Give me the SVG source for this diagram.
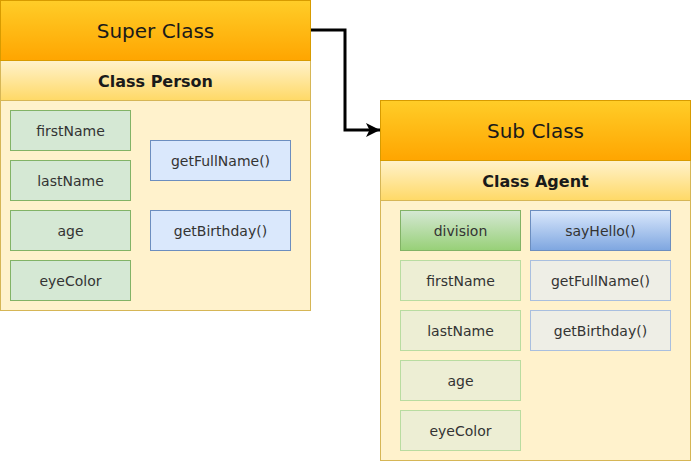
<svg xmlns="http://www.w3.org/2000/svg" width="691" height="461" viewBox="0 0 691 461">
<defs>
<linearGradient id="gHead" x1="0" y1="0" x2="0" y2="1"><stop offset="0" stop-color="#ffcd28"/><stop offset="1" stop-color="#ffa500"/></linearGradient>
<linearGradient id="gSub" x1="0" y1="0" x2="0" y2="1"><stop offset="0" stop-color="#fff2cc"/><stop offset="1" stop-color="#ffd966"/></linearGradient>
<linearGradient id="gGreen" x1="0" y1="0" x2="0" y2="1"><stop offset="0" stop-color="#d5e8d4"/><stop offset="1" stop-color="#97d077"/></linearGradient>
<linearGradient id="gBlue" x1="0" y1="0" x2="0" y2="1"><stop offset="0" stop-color="#dae8fc"/><stop offset="1" stop-color="#7ea6e0"/></linearGradient>
<marker id="arr" markerWidth="14" markerHeight="14" refX="14" refY="7" orient="auto" markerUnits="userSpaceOnUse">
<path d="M0,0 L14,7 L0,14 L3.5,7 Z" fill="#000"/>
</marker>
</defs>
<style>
text{font-family:"DejaVu Sans",Verdana,sans-serif;text-anchor:middle;dominant-baseline:central;fill:#1a1a1a}
.head{fill:url(#gHead);stroke:#d79b00}
.sub{fill:url(#gSub);stroke:#d6b656}
.body{fill:#fff2cc;stroke:#d6b656}
.t1{font-size:20px}
.t2{font-size:16px;font-weight:bold}
.t3{font-size:14px;fill:#333}
.attr{fill:#d5e8d4;stroke:#82b366}
.meth{fill:#dae8fc;stroke:#6c8ebf}
.attrN{fill:url(#gGreen);stroke:#82b366}
.methN{fill:url(#gBlue);stroke:#6c8ebf}
.attrF{fill:#edeed4;stroke:#b9dca0}
.methF{fill:#eeeee6;stroke:#a9bfdf}
</style>
<g id="connectors">
<path d="M310,30 H345 V130 H380" fill="none" stroke="#000" stroke-width="3" marker-end="url(#arr)"/>
</g>
<g id="superclass">
<rect class="body" x="0.5" y="100.5" width="310" height="210"/>
<rect class="sub" x="0.5" y="60.5" width="310" height="40"/>
<rect class="head" x="0.5" y="0.5" width="310" height="60"/>
<text class="t1" x="155.5" y="31">Super Class</text>
<text class="t2" x="155.5" y="81">Class Person</text>
</g>
<g id="sp-firstName"><rect class="attr" x="10.5" y="110.5" width="120" height="40"/><text class="t3" x="70.5" y="131">firstName</text></g>
<g id="sp-lastName"><rect class="attr" x="10.5" y="160.5" width="120" height="40"/><text class="t3" x="70.5" y="181">lastName</text></g>
<g id="sp-age"><rect class="attr" x="10.5" y="210.5" width="120" height="40"/><text class="t3" x="70.5" y="231">age</text></g>
<g id="sp-eyeColor"><rect class="attr" x="10.5" y="260.5" width="120" height="40"/><text class="t3" x="70.5" y="281">eyeColor</text></g>
<g id="sp-getFullName"><rect class="meth" x="150.5" y="140.5" width="140" height="40"/><text class="t3" x="220.5" y="161">getFullName()</text></g>
<g id="sp-getBirthday"><rect class="meth" x="150.5" y="210.5" width="140" height="40"/><text class="t3" x="220.5" y="231">getBirthday()</text></g>
<g id="subclass">
<rect class="body" x="380.5" y="200.5" width="310" height="260"/>
<rect class="sub" x="380.5" y="160.5" width="310" height="40"/>
<rect class="head" x="380.5" y="100.5" width="310" height="60"/>
<text class="t1" x="535.5" y="131">Sub Class</text>
<text class="t2" x="535.5" y="181">Class Agent</text>
</g>
<g id="sb-division"><rect class="attrN" x="400.5" y="210.5" width="120" height="40"/><text class="t3" x="460.5" y="231">division</text></g>
<g id="sb-sayHello"><rect class="methN" x="530.5" y="210.5" width="140" height="40"/><text class="t3" x="600.5" y="231">sayHello()</text></g>
<g id="sb-firstName"><rect class="attrF" x="400.5" y="260.5" width="120" height="40"/><text class="t3" x="460.5" y="281">firstName</text></g>
<g id="sb-lastName"><rect class="attrF" x="400.5" y="310.5" width="120" height="40"/><text class="t3" x="460.5" y="331">lastName</text></g>
<g id="sb-age"><rect class="attrF" x="400.5" y="360.5" width="120" height="40"/><text class="t3" x="460.5" y="381">age</text></g>
<g id="sb-eyeColor"><rect class="attrF" x="400.5" y="410.5" width="120" height="40"/><text class="t3" x="460.5" y="431">eyeColor</text></g>
<g id="sb-getFullName"><rect class="methF" x="530.5" y="260.5" width="140" height="40"/><text class="t3" x="600.5" y="281">getFullName()</text></g>
<g id="sb-getBirthday"><rect class="methF" x="530.5" y="310.5" width="140" height="40"/><text class="t3" x="600.5" y="331">getBirthday()</text></g>
</svg>
